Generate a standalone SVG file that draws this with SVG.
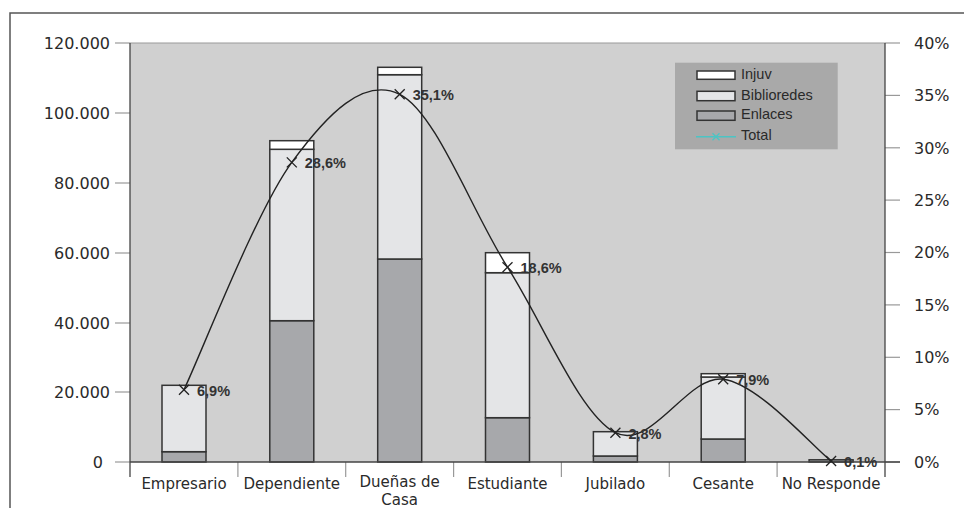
<svg xmlns="http://www.w3.org/2000/svg" width="964" height="508" viewBox="0 0 964 508">
<style>
.ax{font-family:"DejaVu Sans",sans-serif;font-size:16px;fill:#2a2a2a}
.cat{font-family:"DejaVu Sans",sans-serif;font-size:15px;fill:#2a2a2a;text-anchor:middle}
.dl{font-family:"Liberation Sans",Arial,sans-serif;font-size:14.5px;font-weight:bold;fill:#333}
.lg{font-family:"Liberation Sans",Arial,sans-serif;font-size:14.5px;fill:#2a2a2a}
.tk{stroke:#999;stroke-width:1.2}
.axl{stroke:#444;stroke-width:1.3}
.inj{fill:#ffffff;stroke:#333;stroke-width:1.5}
.bib{fill:#e4e5e7;stroke:#333;stroke-width:1.5}
.enl{fill:#a7a8ab;stroke:#333;stroke-width:1.5}
.mk{stroke:#222;stroke-width:1.3;fill:none}
</style>
<defs>
<path id="x" d="M-5,-5L5,5M-5,5L5,-5"/>
</defs>
<rect x="0" y="0" width="964" height="508" fill="#ffffff"/>
<rect id="frame" x="10" y="13" width="1000" height="1000" fill="none" stroke="#555" stroke-width="1.5"/>
<g id="plot">
<rect x="130" y="43" width="755" height="419" fill="#d0d0d0"/>
<line x1="130" y1="43" x2="885" y2="43" stroke="#999" stroke-width="1.2"/>
</g>
<g id="axes">
<line class="tk" x1="115" y1="43" x2="130" y2="43"/>
<line class="tk" x1="115" y1="113" x2="130" y2="113"/>
<line class="tk" x1="115" y1="183" x2="130" y2="183"/>
<line class="tk" x1="115" y1="253" x2="130" y2="253"/>
<line class="tk" x1="115" y1="323" x2="130" y2="323"/>
<line class="tk" x1="115" y1="392" x2="130" y2="392"/>
<line class="tk" x1="115" y1="462" x2="130" y2="462"/>
<line class="tk" x1="885" y1="43" x2="900" y2="43"/>
<line class="tk" x1="885" y1="95.4" x2="900" y2="95.4"/>
<line class="tk" x1="885" y1="147.8" x2="900" y2="147.8"/>
<line class="tk" x1="885" y1="200.1" x2="900" y2="200.1"/>
<line class="tk" x1="885" y1="252.5" x2="900" y2="252.5"/>
<line class="tk" x1="885" y1="304.9" x2="900" y2="304.9"/>
<line class="tk" x1="885" y1="357.3" x2="900" y2="357.3"/>
<line class="tk" x1="885" y1="409.6" x2="900" y2="409.6"/>
<line class="tk" x1="885" y1="462" x2="900" y2="462"/>
<line class="tk" x1="237.9" y1="462" x2="237.9" y2="477"/>
<line class="tk" x1="345.7" y1="462" x2="345.7" y2="477"/>
<line class="tk" x1="453.6" y1="462" x2="453.6" y2="477"/>
<line class="tk" x1="561.4" y1="462" x2="561.4" y2="477"/>
<line class="tk" x1="669.3" y1="462" x2="669.3" y2="477"/>
<line class="tk" x1="777.1" y1="462" x2="777.1" y2="477"/>
<line class="axl" x1="130" y1="43" x2="130" y2="477"/>
<line class="axl" x1="885" y1="43" x2="885" y2="477"/>
<text class="ax" x="110" y="49" text-anchor="end">120.000</text>
<text class="ax" x="110" y="119" text-anchor="end">100.000</text>
<text class="ax" x="110" y="189" text-anchor="end">80.000</text>
<text class="ax" x="110" y="259" text-anchor="end">60.000</text>
<text class="ax" x="110" y="329" text-anchor="end">40.000</text>
<text class="ax" x="110" y="398" text-anchor="end">20.000</text>
<text class="ax" x="103" y="468" text-anchor="end">0</text>
<text class="ax" x="914" y="49">40%</text>
<text class="ax" x="914" y="101">35%</text>
<text class="ax" x="914" y="154">30%</text>
<text class="ax" x="914" y="206">25%</text>
<text class="ax" x="914" y="258">20%</text>
<text class="ax" x="914" y="311">15%</text>
<text class="ax" x="914" y="363">10%</text>
<text class="ax" x="914" y="415">5%</text>
<text class="ax" x="914" y="468">0%</text>
<text class="cat" x="184" y="489">Empresario</text>
<text class="cat" x="291.8" y="489">Dependiente</text>
<text class="cat" x="399.7" y="487">Dueñas de</text>
<text class="cat" x="399.7" y="505">Casa</text>
<text class="cat" x="507.5" y="489">Estudiante</text>
<text class="cat" x="615.4" y="489">Jubilado</text>
<text class="cat" x="723.2" y="489">Cesante</text>
<text class="cat" x="831.1" y="489">No Responde</text>
</g>
<g id="bar-empresario">
<rect class="enl" x="162" y="451.7" width="44" height="10.3"/>
<rect class="bib" x="162" y="385.3" width="44" height="66.4"/>
</g>
<g id="bar-dependiente">
<rect class="enl" x="269.8" y="320.7" width="44" height="141.3"/>
<rect class="bib" x="269.8" y="149.3" width="44" height="171.4"/>
<rect class="inj" x="269.8" y="140.7" width="44" height="8.6"/>
</g>
<g id="bar-duenas">
<rect class="enl" x="377.7" y="259" width="44" height="203"/>
<rect class="bib" x="377.7" y="74.7" width="44" height="184.3"/>
<rect class="inj" x="377.7" y="67.3" width="44" height="7.4"/>
</g>
<g id="bar-estudiante">
<rect class="enl" x="485.5" y="417.7" width="44" height="44.3"/>
<rect class="bib" x="485.5" y="272.7" width="44" height="145"/>
<rect class="inj" x="485.5" y="252.7" width="44" height="20"/>
</g>
<g id="bar-jubilado">
<rect class="enl" x="593.4" y="456" width="44" height="6"/>
<rect class="bib" x="593.4" y="431.7" width="44" height="24.3"/>
</g>
<g id="bar-cesante">
<rect class="enl" x="701.2" y="439" width="44" height="23"/>
<rect class="bib" x="701.2" y="377" width="44" height="62"/>
<rect class="inj" x="701.2" y="373.7" width="44" height="3.3"/>
</g>
<g id="bar-noresponde">
<rect class="enl" x="809.1" y="459.8" width="44" height="2.2"/>
</g>
<line class="axl" x1="130" y1="462" x2="900" y2="462"/>
<g id="connectors">
<path d="M184,389.7 C201.97,351.82 255.85,211.63 291.8,162.4 C327.75,113.17 363.75,76.83 399.7,94.3 C435.65,111.77 471.55,210.8 507.5,267.2 C543.45,323.6 579.45,414.03 615.4,432.7 C651.35,451.37 687.25,374.48 723.2,379.2 C759.15,383.92 813.12,447.37 831.1,461" fill="none" stroke="#222" stroke-width="1.4"/>
<use href="#x" class="mk" x="184" y="389.7"/>
<use href="#x" class="mk" x="291.8" y="162.4"/>
<use href="#x" class="mk" x="399.7" y="94.3"/>
<use href="#x" class="mk" x="507.5" y="267.2"/>
<use href="#x" class="mk" x="615.4" y="432.7"/>
<use href="#x" class="mk" x="723.2" y="379.2"/>
<use href="#x" class="mk" x="831.1" y="461"/>
</g>
<g id="data-labels">
<text class="dl" x="197" y="395.5">6,9%</text>
<text class="dl" x="304.8" y="168.2">28,6%</text>
<text class="dl" x="412.7" y="100.1">35,1%</text>
<text class="dl" x="520.5" y="273">18,6%</text>
<text class="dl" x="628.4" y="438.5">2,8%</text>
<text class="dl" x="736.2" y="385">7,9%</text>
<text class="dl" x="844.1" y="466.8">0,1%</text>
</g>
<g id="legend">
<rect x="675" y="62.7" width="162.7" height="86.6" fill="#a9a9a9"/>
<rect class="inj" x="697" y="71" width="38" height="8.3"/>
<rect class="bib" x="697" y="91.3" width="38" height="9.4"/>
<rect class="enl" x="697" y="111" width="38" height="9.3"/>
<line x1="696" y1="136.7" x2="736" y2="136.7" stroke="#4cc4c4" stroke-width="1.5"/>
<path d="M712.5,133.2L719.5,140.2M712.5,140.2L719.5,133.2" stroke="#4cc4c4" stroke-width="1.3"/>
<text class="lg" x="741" y="78.5">Injuv</text>
<text class="lg" x="741" y="99.5">Biblioredes</text>
<text class="lg" x="741" y="119">Enlaces</text>
<text class="lg" x="741" y="140">Total</text>
</g>
</svg>
